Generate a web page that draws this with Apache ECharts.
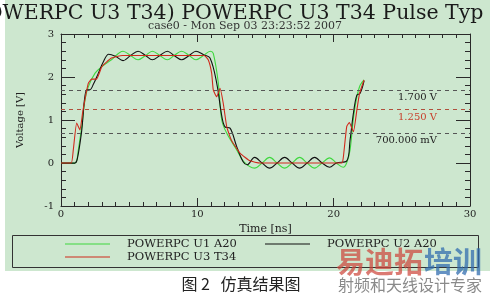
<!DOCTYPE html>
<html><head><meta charset="utf-8">
<script src="https://cdn.jsdelivr.net/npm/echarts@6/dist/echarts.min.js"></script>
<style>html,body{margin:0;padding:0;background:#fff}#c{width:490px;height:298px}</style>
</head><body><div id="c"></div>
<script>
const seriesNames = ['POWERPC U1 A20', 'POWERPC U2 A20', 'POWERPC U3 T34'];

const greenT = [0, 1.0, 1.15, 1.27, 1.52, 1.76, 2.0, 2.5, 3.0, 3.7, 4.55, 5.1, 5.65, 6.2, 6.7, 7.25, 7.8, 8.3, 8.85, 9.4, 9.9, 10.45, 10.95, 11.17, 11.54, 11.79, 12.16, 12.9, 13.4, 14.2, 14.75, 15.3, 15.85, 16.4, 16.95, 17.5, 18.05, 18.6, 19.15, 19.7, 20.2, 20.7, 20.95, 21.2, 21.45, 21.7, 21.94, 22.23];
const greenV = [0, 0, 0.05, 0.3, 0.84, 1.47, 1.77, 2.09, 2.24, 2.4, 2.6, 2.5, 2.4, 2.5, 2.6, 2.5, 2.4, 2.5, 2.6, 2.5, 2.4, 2.5, 2.6, 2.55, 1.86, 1.0, 0.69, 0.3, 0.03, -0.12, 0, 0.13, 0, -0.12, 0, 0.13, 0, -0.12, 0, 0.12, 0, -0.1, 0.0, 0.3, 1.05, 1.54, 1.81, 1.93];

const blackT = [0, 1.03, 1.2, 1.5, 1.88, 2.1, 2.4, 2.74, 3.1, 3.5, 4.0, 4.55, 5.1, 5.65, 6.2, 6.7, 7.25, 7.8, 8.3, 8.85, 9.4, 9.9, 10.45, 10.93, 11.42, 11.8, 12.03, 12.4, 12.89, 13.36, 13.65, 14.2, 14.75, 15.3, 15.85, 16.4, 16.95, 17.5, 18.05, 18.6, 19.15, 19.7, 20.2, 20.96, 21.2, 21.45, 21.7, 21.94, 22.23];
const blackV = [0, 0, 0.1, 0.7, 1.7, 1.7, 1.85, 2.09, 2.35, 2.53, 2.48, 2.38, 2.5, 2.6, 2.5, 2.4, 2.5, 2.6, 2.5, 2.4, 2.5, 2.6, 2.52, 2.44, 1.86, 1.08, 0.84, 0.81, 0.38, 0.03, -0.04, 0.13, 0, -0.12, 0, 0.13, 0, -0.12, 0, 0.13, 0, -0.1, 0, 0.05, 0.53, 1.16, 1.58, 1.62, 1.91];

const redT = [0, 0.75, 0.9, 1.15, 1.39, 1.6, 2.0, 2.25, 2.6, 3.0, 3.7, 4.5, 10.5, 10.8, 11.05, 11.17, 11.42, 11.67, 11.9, 12.16, 12.5, 13.13, 13.87, 14.6, 20.6, 20.7, 20.96, 21.15, 21.45, 21.7, 21.9, 22.23];
const redV = [0, 0, 0.3, 0.93, 0.77, 1.2, 1.85, 1.95, 1.95, 2.24, 2.44, 2.5, 2.5, 2.4, 2.09, 1.7, 1.54, 1.74, 1.39, 0.84, 0.53, 0.23, 0.05, 0, 0, 0.11, 0.85, 0.94, 0.73, 1.23, 1.62, 1.93];

const refLevels = [1.7, 1.25, 0.7];
const refLabels = ['1.700 V', '1.250 V', '700.000 mV'];

const xMin = 0, xMax = 30, xStep = 10;
const yMin = -1, yMax = 3, yStep = 1;

const zip = (t, v) => t.map((x, i) => [x, v[i]]);
const serif = 'DejaVu Serif';
const axisColor = '#2a2a2a';

const chart = echarts.init(document.getElementById('c'), null, {renderer: 'canvas'});

function xAx(pos, labels) {
  return {
    type: 'value', position: pos, min: xMin, max: xMax, interval: xStep,
    name: labels ? 'Time [ns]' : '', nameLocation: 'middle', nameGap: 17,
    nameTextStyle: {fontFamily: serif, fontSize: 11, color: '#222'},
    axisLine: {show: true, onZero: false, lineStyle: {color: axisColor, width: 1}},
    axisTick: {show: true, inside: true, length: 8, lineStyle: {color: axisColor}},
    minorTick: {show: true, splitNumber: 10, length: 4, lineStyle: {color: axisColor}},
    axisLabel: {show: labels, fontFamily: serif, fontSize: 10, color: '#222', margin: 3},
    splitLine: {show: false}
  };
}
function yAx(pos, labels) {
  return {
    type: 'value', position: pos, min: yMin, max: yMax, interval: yStep,
    name: labels ? 'Voltage [V]' : '', nameLocation: 'middle', nameGap: 36, nameRotate: 90,
    nameTextStyle: {fontFamily: serif, fontSize: 10, color: '#222'},
    axisLine: {show: true, onZero: false, lineStyle: {color: axisColor, width: 1}},
    axisTick: {show: true, inside: true, length: 14, lineStyle: {color: axisColor}},
    minorTick: {show: true, splitNumber: 5, length: 5, lineStyle: {color: axisColor}},
    axisLabel: {show: labels, fontFamily: serif, fontSize: 10, color: '#222', margin: 7},
    splitLine: {show: false}
  };
}

const colors = ['#3fd83f', '#111111', '#d02a1c'];

const refColors = ['#555555', '#b0503c', '#555555'];
const refTextColors = ['#222222', '#c8402c', '#222222'];

const legendPos = [[65, 238], [265, 238], [65, 251]];

const option = {
  backgroundColor: '#cde7cf',
  animation: false,
  grid: {left: 61, top: 34, width: 409, height: 172, containLabel: false},
  xAxis: [xAx('bottom', true), xAx('top', false)],
  yAxis: [yAx('left', true), yAx('right', false)],
  legend: seriesNames.map((n, i) => ({
    data: [n], left: legendPos[i][0], top: legendPos[i][1],
    icon: 'rect', itemWidth: 45, itemHeight: 1, padding: 0,
    textStyle: {fontFamily: serif, fontSize: 11.5, color: '#222', padding: [0, 0, 0, 12]}
  })),
  graphic: [
    {type: 'rect', shape: {x: 0, y: 0, width: 5, height: 298}, style: {fill: '#ffffff'}, silent: true},
    {type: 'rect', shape: {x: 0, y: 271, width: 490, height: 27}, style: {fill: '#ffffff'}, silent: true},
    {type: 'rect', shape: {x: 12.5, y: 235.5, width: 466, height: 32}, style: {fill: 'none', stroke: '#333', lineWidth: 1}, silent: true},
    {type: 'text', x: -28, y: 3, style: {text: 'POWERPC U3 T34) POWERPC U3 T34 Pulse Typ R', font: '20.5px "DejaVu Serif"', fill: '#1a1a1a'}},
    {type: 'text', x: 245, y: 26, style: {text: 'case0 - Mon Sep 03 23:23:52 2007', font: '11px "DejaVu Serif"', fill: '#333', textAlign: 'center', textVerticalAlign: 'middle'}},
    {type: 'text', x: 241, y: 284, style: {text: '图 2   仿真结果图', font: '16px "Noto Sans CJK SC"', fill: '#222', textAlign: 'center', textVerticalAlign: 'middle'}},
    {type: 'text', x: 336, y: 262, z: 100, style: {text: '易迪拓', font: 'bold 29px "Noto Sans CJK SC"', fill: 'rgba(205,70,60,0.72)', textVerticalAlign: 'middle'}},
    {type: 'text', x: 424, y: 262, z: 100, style: {text: '培训', font: 'bold 29px "Noto Sans CJK SC"', fill: 'rgba(50,110,175,0.75)', textVerticalAlign: 'middle'}},
    {type: 'text', x: 338, y: 285, z: 100, style: {text: '射频和天线设计专家', font: '16px "Noto Sans CJK SC"', fill: '#8a8a8a', textVerticalAlign: 'middle'}}
  ],
  series: [
    {name: seriesNames[0], type: 'line', data: zip(greenT, greenV), showSymbol: false, symbol: 'none', smooth: 0.35,
     lineStyle: {color: colors[0], width: 1.1}, itemStyle: {color: colors[0]}, z: 3},
    {name: seriesNames[1], type: 'line', data: zip(blackT, blackV), showSymbol: false, symbol: 'none', smooth: 0.35,
     lineStyle: {color: colors[1], width: 1.1}, itemStyle: {color: colors[1]}, z: 4},
    {name: seriesNames[2], type: 'line', data: zip(redT, redV), showSymbol: false, symbol: 'none', smooth: 0.15,
     lineStyle: {color: colors[2], width: 1.1}, itemStyle: {color: colors[2]}, z: 5,
     markLine: {
       silent: true, symbol: ['none', 'none'], animation: false,
       data: refLevels.map((v, i) => ({
         yAxis: v,
         lineStyle: {color: refColors[i], type: [4, 4], width: 1},
         label: {show: true, position: 'insideEndBottom', formatter: refLabels[i], distance: [33, 3],
                 fontFamily: serif, fontSize: 10, color: refTextColors[i]}
       }))
     }}
  ]
};
chart.setOption(option);
</script></body></html>
